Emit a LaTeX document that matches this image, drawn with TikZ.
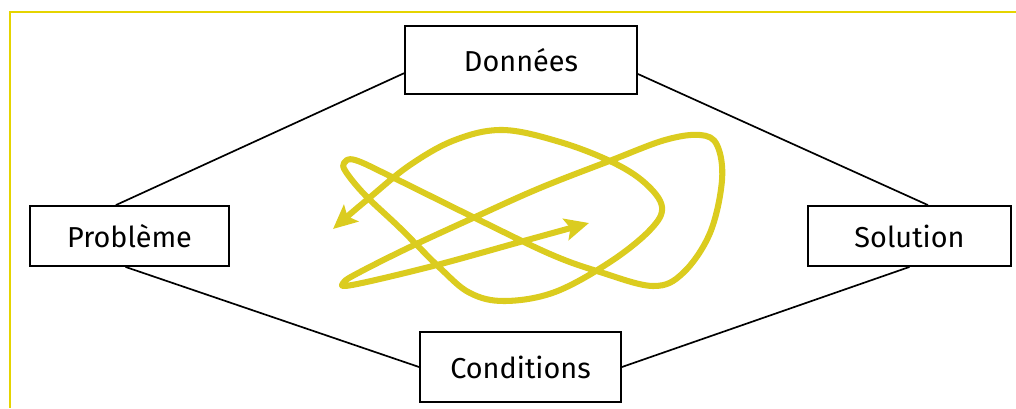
\documentclass[tikz,border=0pt]{standalone}
\usepackage{fontspec}
\setmainfont{Fira Sans}
\usetikzlibrary{arrows.meta}

\definecolor{frameyellow}{rgb}{0.90,0.83,0.0}
\definecolor{scribble}{rgb}{0.86,0.80,0.12}

\begin{document}
\begin{tikzpicture}[x=0.025cm,y=-0.025cm,
	box/.style={draw,line width=1.3pt,inner sep=0pt,font=\fontsize{20.5}{24}\selectfont},
	link/.style={line width=1.2pt}]

	\useasboundingbox (0,0) rectangle (1016,408);
	\draw[frameyellow,line width=1.2pt] (10,408) -- (10,12) -- (1016,12);

	\node[box,minimum width=5.8cm,minimum height=1.7cm] at (521,60) (donnees) {Données};
	\node[box,minimum width=4.975cm,minimum height=1.5cm] at (129.5,236) (probleme) {Problème};
	\node[box,minimum width=5.075cm,minimum height=1.5cm] at (909.5,236) (solution) {Solution};
	\node[box,minimum width=5.025cm,minimum height=1.75cm] at (520.5,367) (conditions) {Conditions};

	\draw[link] ([xshift=-0.34cm]probleme.north) -- ([yshift=-0.33cm]donnees.west);
	\draw[link] ([yshift=-0.35cm]donnees.east) -- ([xshift=0.46cm]solution.north);
	\draw[link] ([xshift=-0.1cm]probleme.south) -- (conditions.west);
	\draw[link] (conditions.east) -- (solution.south);

	% scribble
	\draw[scribble,line width=4.3pt,line cap=round,line join=round,
		{Stealth[length=0.6cm,width=0.55cm,inset=0.12cm]}-{Stealth[length=0.6cm,width=0.55cm,inset=0.12cm]}]
		plot[smooth,tension=0.6] coordinates {
		(333,229) (368,199) (410,165) (455,140) (503,130) (560,142) (612,162)
		(645,183) (662,207) (650,230) (610,262) (555,292) (505,301) (470,293)
		(440,268) (400,228) (365,195) (346,172) (344,163) (355,160) (392,177)
		(473,217) (550,254) (600,272) (653,286) (683,273) (710,233) (722,180)
		(717,145) (700,135) (665,140) (612,160) (540,188) (473,218) (410,247)
		(360,272) (344,282) (352,285) (433,266) (520,242) (589,223)};
\end{tikzpicture}
\end{document}
